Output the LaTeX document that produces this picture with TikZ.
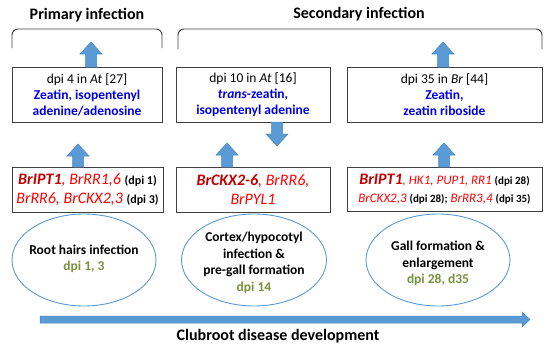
\documentclass[tikz,border=0pt]{standalone}
\usepackage{fontspec}
\setmainfont{Carlito}
\usetikzlibrary{shapes.geometric}
\definecolor{arrfill}{HTML}{5B9BD5}
\definecolor{arrline}{HTML}{4A86C0}
\definecolor{dred}{HTML}{C00000}
\definecolor{bred}{HTML}{FF0000}
\definecolor{tblue}{HTML}{0000E0}
\definecolor{tgreen}{HTML}{77933C}
\definecolor{framec}{HTML}{404040}
\newcommand\upblock[3]{\filldraw[barrow] ({#1-5.5},#3) -- ({#1-5.5},{#2+12}) -- ({#1-11},{#2+12}) -- (#1,#2) -- ({#1+11},{#2+12}) -- ({#1+5.5},{#2+12}) -- ({#1+5.5},#3) -- cycle;}
\newcommand\downblock[3]{\filldraw[barrow] ({#1-5.5},#2) -- ({#1-5.5},{#3-12}) -- ({#1-11},{#3-12}) -- (#1,#3) -- ({#1+11},{#3-12}) -- ({#1+5.5},{#3-12}) -- ({#1+5.5},#2) -- cycle;}
\begin{document}
\begin{tikzpicture}[x=1pt,y=-1pt,
  box/.style={draw=framec, line width=0.9pt, rectangle, inner sep=0pt, align=center},
  ell/.style={draw=arrfill, line width=0.9pt, ellipse, inner sep=0pt},
  barrow/.style={fill=arrfill, draw=arrline, line width=0.5pt},
  brk/.style={draw=framec, line width=0.9pt, rounded corners=6pt},
  head/.style={font=\fontsize{16}{19}\selectfont\bfseries, inner sep=0pt, anchor=base},
  etxt/.style={align=center, inner sep=0pt, font=\fontsize{13.5}{16.5}\selectfont\bfseries},
  ttxt/.style={font=\fontsize{13.5}{16}\selectfont},
  rtxt/.style={font=\fontsize{16}{19}\selectfont\itshape\color{bred}}]
\useasboundingbox (0,0) rectangle (550,357);
\fill[white] (0,0) rectangle (550,357);

% headings
\node[head] (h1) at (87,19) {Primary infection};
\node[head] (h2) at (359,18) {Secondary infection};

% brackets
\draw[brk] (12,48) -- (12,29) -- (162,29) -- (162,48);
\draw[brk] (178,49) -- (178,29) -- (542,29) -- (542,49);

% top boxes
\node[box, ttxt, minimum width=150, minimum height=55] (t1) at (87,94.5)
  {dpi 4 in \textit{At} [27]\\ \color{tblue}\bfseries Zeatin, isopentenyl\\ \color{tblue}\bfseries adenine/adenosine};
\node[box, ttxt, minimum width=154, minimum height=55] (t2) at (253,94.5)
  {dpi 10 in \textit{At} [16]\\ \color{tblue}\bfseries\textit{trans}-zeatin,\\ \color{tblue}\bfseries isopentenyl adenine};
\node[box, ttxt, minimum width=195, minimum height=55] (t3) at (444.5,94.5)
  {dpi 35 in \textit{Br} [44]\\ \color{tblue}\bfseries Zeatin,\\ \color{tblue}\bfseries zeatin riboside};

% red boxes
\node[box, rtxt, minimum width=151, minimum height=45] (r1) at (87.5,189.5)
  {{\bfseries\color{dred}BrIPT1}, BrRR1,6 {\upshape\bfseries\color{black}\fontsize{12}{19}\selectfont (dpi 1)}\\
   BrRR6, BrCKX2,3 {\upshape\bfseries\color{black}\fontsize{12}{19}\selectfont (dpi 3)}};
\node[box, rtxt, minimum width=154, minimum height=45] (r2) at (253,189.5)
  {{\bfseries\color{dred}BrCKX2-6}, BrRR6,\\ BrPYL1};
\node[box, rtxt, font=\fontsize{13}{18}\selectfont\itshape\color{bred}, minimum width=195, minimum height=44] (r3) at (444.5,189)
  {{\bfseries\color{dred}\fontsize{16}{18}\selectfont BrIPT1}, HK1, PUP1, RR1 {\upshape\bfseries\color{black}\fontsize{11}{18}\selectfont (dpi 28)}\\
   BrCKX2,3 {\upshape\bfseries\color{black}\fontsize{11}{18}\selectfont (dpi 28);} BrRR3,4 {\upshape\bfseries\color{black}\fontsize{11}{18}\selectfont (dpi 35)}};

% ellipses
\node[ell, minimum width=144, minimum height=92] (e1) at (84,260) {};
\node[ell, minimum width=145, minimum height=92] (e2) at (254,260) {};
\node[ell, minimum width=144, minimum height=92] (e3) at (438,260) {};
\node[etxt] (e1t) at (84,259) {Root hairs infection\\ \color{tgreen}dpi 1, 3};
\node[etxt] (e2t) at (254,263) {Cortex/hypocotyl\\ infection \&\\ pre-gall formation\\ \color{tgreen}dpi 14};
\node[etxt] (e3t) at (438,263.5) {Gall formation \&\\ enlargement\\ \color{tgreen}dpi 28, d35};

% block arrows
\upblock{91}{42}{67}
\upblock{443}{42}{67}
\upblock{78}{144}{167}
\upblock{227}{143}{167}
\downblock{277}{122}{146}
\upblock{444}{143}{167}

% long arrow
\coordinate (ls) at (40,319.5);
\coordinate (le) at (530,319.5);
\filldraw[barrow] (ls) ++(0,-3.5) -- (522,316) -- (522,312) -- (le) -- (522,327) -- (522,323) -- (40,323) -- cycle;

\node[head] (lbl) at (278,340) {Clubroot disease development};
\end{tikzpicture}
\end{document}
